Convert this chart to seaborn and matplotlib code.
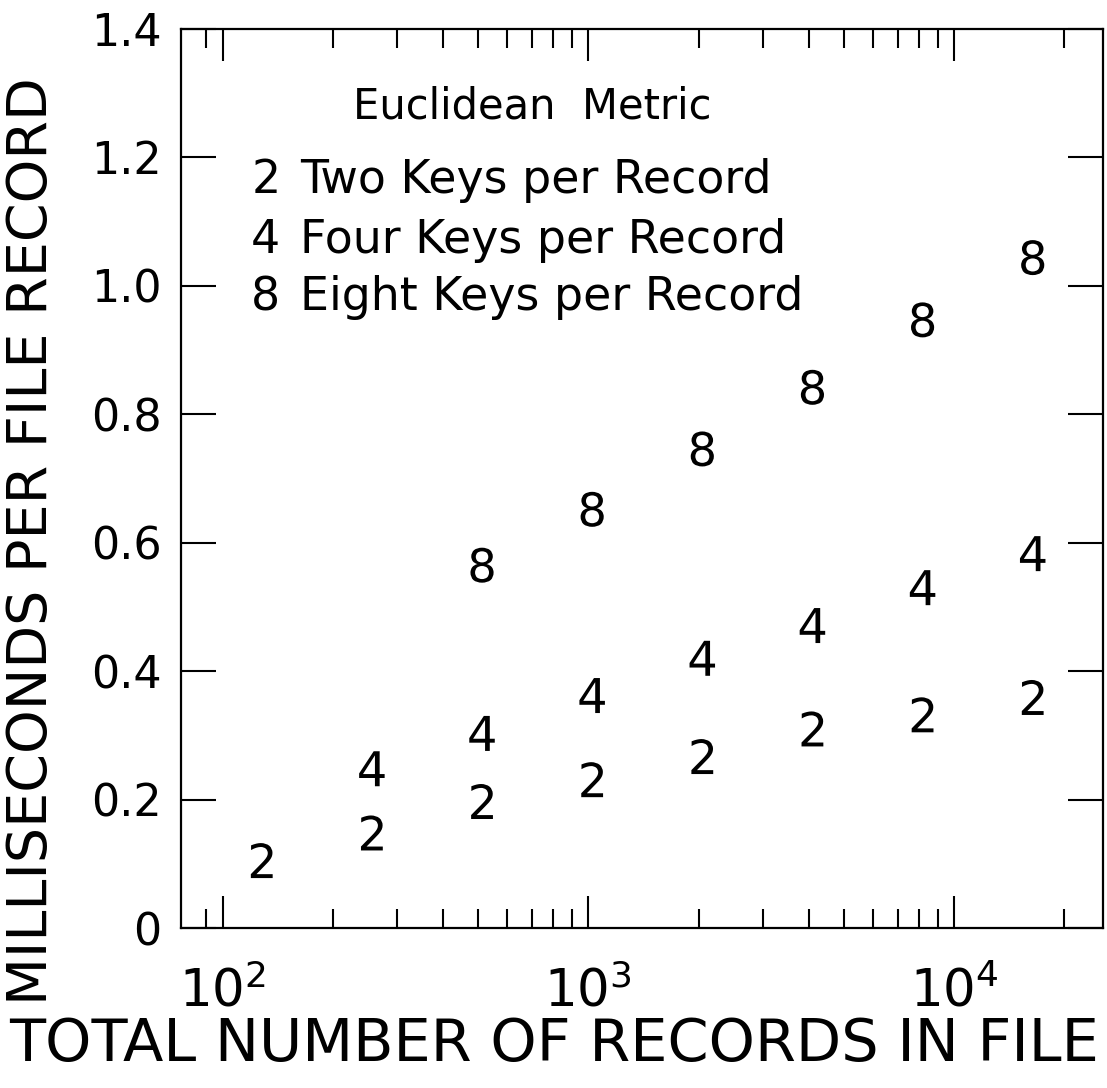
import numpy as np
import pandas as pd
import matplotlib
matplotlib.use('Agg')
import matplotlib.pyplot as plt
import seaborn as sns
from matplotlib.ticker import LogLocator, NullFormatter, FixedLocator, FixedFormatter

# ---- data ----
records_two = [128, 256, 512, 1024, 2048, 4096, 8192, 16384]
ms_two = [0.105, 0.148, 0.197, 0.231, 0.267, 0.310, 0.332, 0.359]
records_four = [256, 512, 1024, 2048, 4096, 8192, 16384]
ms_four = [0.248, 0.303, 0.362, 0.420, 0.471, 0.530, 0.583]
records_eight = [512, 1024, 2048, 4096, 8192, 16384]
ms_eight = [0.565, 0.652, 0.746, 0.842, 0.947, 1.044]

series_symbols = ['2', '4', '8']
series_names = ['Two Keys per Record', 'Four Keys per Record', 'Eight Keys per Record']
legend_title = 'Euclidean  Metric'
y_ticks = [0, 0.2, 0.4, 0.6, 0.8, 1.0, 1.2, 1.4]
y_tick_labels = ['0', '0.2', '0.4', '0.6', '0.8', '1.0', '1.2', '1.4']
x_label = 'TOTAL NUMBER OF RECORDS IN FILE'
y_label = 'MILLISECONDS PER FILE RECORD'

df = pd.concat([
    pd.DataFrame({'records': records_two, 'ms': ms_two, 'keys': series_symbols[0]}),
    pd.DataFrame({'records': records_four, 'ms': ms_four, 'keys': series_symbols[1]}),
    pd.DataFrame({'records': records_eight, 'ms': ms_eight, 'keys': series_symbols[2]}),
], ignore_index=True)

sns.set_theme(style='white')
plt.rcParams['font.family'] = ['DejaVu Sans']
plt.rcParams['axes.edgecolor'] = 'black'
plt.rcParams['axes.linewidth'] = 1.6

fig = plt.figure(figsize=(11.07, 10.88), dpi=100)
ax = fig.add_axes([181 / 1107, 1 - 928 / 1088, 922 / 1107, 899 / 1088])
ax.set_xscale('log')

markers = {s: r'$\mathregular{%s}$' % s for s in series_symbols}
sns.scatterplot(data=df, x='records', y='ms', style='keys', markers=markers,
                color='black', s=635, linewidth=0, legend=False, ax=ax)

ax.set_xlim(77, 25500)
ax.set_ylim(0, 1.4)

ax.yaxis.set_major_locator(FixedLocator(y_ticks))
ax.yaxis.set_major_formatter(FixedFormatter(y_tick_labels))
ax.xaxis.set_major_locator(LogLocator(base=10))
minor_x = np.concatenate([np.arange(2, 10) * 10.0 ** k for k in (1, 2, 3, 4)])
ax.xaxis.set_minor_locator(FixedLocator(minor_x[minor_x > 85]))
ax.xaxis.set_minor_formatter(NullFormatter())

ax.tick_params(axis='y', which='major', direction='in', length=25, width=1.5,
               left=True, right=True, labelsize=32, pad=14, colors='black')
ax.tick_params(axis='x', which='major', direction='in', length=23, width=1.5,
               top=True, bottom=True, labelsize=37, pad=28, colors='black')
ax.tick_params(axis='x', which='minor', direction='in', length=14, width=1.5,
               top=True, bottom=True, colors='black')

for sp in ax.spines.values():
    sp.set_color('black')
    sp.set_linewidth(1.6)

ax.set_xlabel(x_label, fontsize=42.5, color='black')
ax.set_ylabel(y_label, fontsize=40, color='black')
ax.xaxis.label.set_verticalalignment('center')
ax.yaxis.label.set_verticalalignment('center')
ax.xaxis.set_label_coords(0.405, -0.130)
ax.yaxis.set_label_coords(-0.162, 0.43)

# legend-like annotation block
ax.text(0.1866, 0.914, legend_title, transform=ax.transAxes, fontsize=30,
        ha='left', va='center', color='black')
legend_y = [0.832, 0.765, 0.701]
for sym, name, yy in zip(series_symbols, series_names, legend_y):
    ax.text(0.092, yy, sym, transform=ax.transAxes, fontsize=33,
            ha='center', va='center', color='black')
    ax.text(0.129, yy, name, transform=ax.transAxes, fontsize=33,
            ha='left', va='center', color='black')

fig.savefig('out.png', dpi=100, facecolor='white')
